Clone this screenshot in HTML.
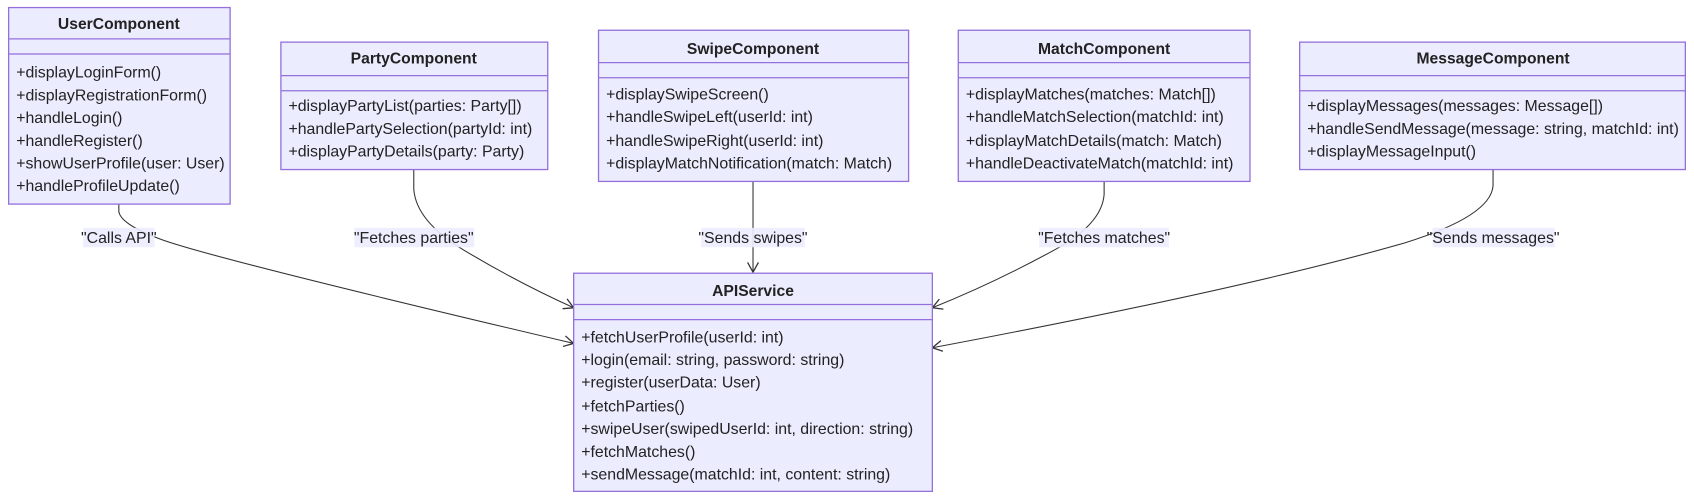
<!DOCTYPE html>
<html><head><meta charset="utf-8"><style>
html,body{margin:0;padding:0;background:#fff;}
svg{display:block;}
text{font-family:"Liberation Sans",sans-serif;font-size:14.7px;fill:#222;}
.t{font-weight:bold;text-anchor:middle;font-size:14.5px;}
.b{fill:#ECECFF;stroke:#9370DB;stroke-width:1.2;}
.l{stroke:#9370DB;stroke-width:1.2;}
.e{fill:none;stroke:#333;stroke-width:1;}
.lb{fill:#ECECFF;opacity:0.9;}
.c{text-anchor:middle;}
</style></head><body>
<svg width="1694" height="500" viewBox="0 0 1568 463" preserveAspectRatio="none">
<defs><marker id="a" markerWidth="12" markerHeight="12" refX="10" refY="6" orient="auto" markerUnits="userSpaceOnUse"><path d="M1,1 L10,6 L1,11" fill="none" stroke="#333" stroke-width="1.2"/></marker></defs>

<path class="e" d="M110,189 L110,196 Q112,208 150,222 Q200,240 531,318" marker-end="url(#a)"/>
<path class="e" d="M383,157 L383,175 Q385,205 430,232 Q480,262 531,285" marker-end="url(#a)"/>
<path class="e" d="M697,168 L697,252" marker-end="url(#a)"/>
<path class="e" d="M1022,168 L1022,180 Q1020,208 975,232 Q920,262 863,285" marker-end="url(#a)"/>
<path class="e" d="M1382,157 L1382,172 Q1380,200 1300,225 Q1150,268 863,322" marker-end="url(#a)"/>

<rect class="lb" x="77" y="211" width="66" height="18"/><text class="c" x="110" y="225">"Calls API"</text>
<rect class="lb" x="328" y="211" width="111" height="18"/><text class="c" x="383" y="225">"Fetches parties"</text>
<rect class="lb" x="649" y="211" width="96" height="18"/><text class="c" x="697" y="225">"Sends swipes"</text>
<rect class="lb" x="962" y="211" width="120" height="18"/><text class="c" x="1022" y="225">"Fetches matches"</text>
<rect class="lb" x="1326" y="211" width="113" height="18"/><text class="c" x="1382" y="225">"Sends messages"</text>

<rect class="b" x="8" y="7" width="205" height="182"/>
<line class="l" x1="8" y1="36" x2="213" y2="36"/><line class="l" x1="8" y1="50" x2="213" y2="50"/>
<text class="t" x="110" y="27">UserComponent</text>
<text x="15" y="72">+displayLoginForm()</text>
<text x="15" y="93">+displayRegistrationForm()</text>
<text x="15" y="114">+handleLogin()</text>
<text x="15" y="135">+handleRegister()</text>
<text x="15" y="156">+showUserProfile(user: User)</text>
<text x="15" y="177">+handleProfileUpdate()</text>

<rect class="b" x="260" y="39" width="247" height="118"/>
<line class="l" x1="260" y1="70" x2="507" y2="70"/><line class="l" x1="260" y1="84" x2="507" y2="84"/>
<text class="t" x="383" y="59">PartyComponent</text>
<text x="267" y="103">+displayPartyList(parties: Party[])</text>
<text x="267" y="124">+handlePartySelection(partyId: int)</text>
<text x="267" y="145">+displayPartyDetails(party: Party)</text>

<rect class="b" x="554" y="28" width="287" height="140"/>
<line class="l" x1="554" y1="58" x2="841" y2="58"/><line class="l" x1="554" y1="72" x2="841" y2="72"/>
<text class="t" x="697" y="50">SwipeComponent</text>
<text x="561" y="92">+displaySwipeScreen()</text>
<text x="561" y="113">+handleSwipeLeft(userId: int)</text>
<text x="561" y="135">+handleSwipeRight(userId: int)</text>
<text x="561" y="156">+displayMatchNotification(match: Match)</text>

<rect class="b" x="887" y="28" width="270" height="140"/>
<line class="l" x1="887" y1="58" x2="1157" y2="58"/><line class="l" x1="887" y1="72" x2="1157" y2="72"/>
<text class="t" x="1022" y="50">MatchComponent</text>
<text x="894" y="92">+displayMatches(matches: Match[])</text>
<text x="894" y="113">+handleMatchSelection(matchId: int)</text>
<text x="894" y="135">+displayMatchDetails(match: Match)</text>
<text x="894" y="156">+handleDeactivateMatch(matchId: int)</text>

<rect class="b" x="1203" y="39" width="357" height="118"/>
<line class="l" x1="1203" y1="70" x2="1560" y2="70"/><line class="l" x1="1203" y1="84" x2="1560" y2="84"/>
<text class="t" x="1382" y="59">MessageComponent</text>
<text x="1210" y="103">+displayMessages(messages: Message[])</text>
<text x="1210" y="124">+handleSendMessage(message: string, matchId: int)</text>
<text x="1210" y="145">+displayMessageInput()</text>

<rect class="b" x="531" y="253" width="332" height="202"/>
<line class="l" x1="531" y1="282" x2="863" y2="282"/><line class="l" x1="531" y1="296" x2="863" y2="296"/>
<text class="t" x="697" y="274">APIService</text>
<text x="538" y="317">+fetchUserProfile(userId: int)</text>
<text x="538" y="338">+login(email: string, password: string)</text>
<text x="538" y="359">+register(userData: User)</text>
<text x="538" y="381">+fetchParties()</text>
<text x="538" y="402">+swipeUser(swipedUserId: int, direction: string)</text>
<text x="538" y="423">+fetchMatches()</text>
<text x="538" y="444">+sendMessage(matchId: int, content: string)</text>
</svg>
</body></html>
